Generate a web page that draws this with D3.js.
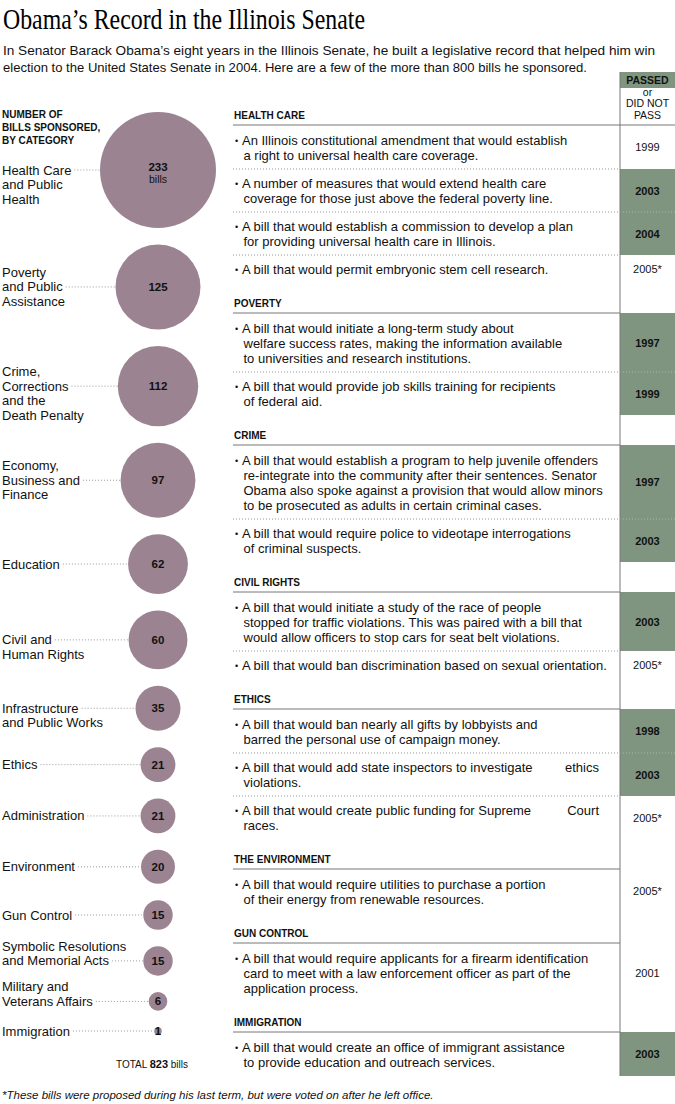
<!DOCTYPE html>
<html><head><meta charset="utf-8">
<script src="https://cdn.jsdelivr.net/npm/d3@7"></script>
<style>
body{margin:0;background:#fff}
svg{display:block}
text{font-family:"Liberation Sans",Arial,Helvetica,sans-serif;fill:#111}
</style>
</head><body><svg id="c" width="675" height="1104"></svg>
<script>
// ---------- DATA ----------
const titleText = "Obama\u2019s Record in the Illinois Senate";
const introLines = [
  "In Senator Barack Obama\u2019s eight years in the Illinois Senate, he built a legislative record that helped him win",
  "election to the United States Senate in 2004. Here are a few of the more than 800 bills he sponsored."
];
const leftHeader = ["NUMBER OF", "BILLS SPONSORED,", "BY CATEGORY"];
const categories = ["Health Care and Public Health","Poverty and Public Assistance","Crime, Corrections and the Death Penalty","Economy, Business and Finance","Education","Civil and Human Rights","Infrastructure and Public Works","Ethics","Administration","Environment","Gun Control","Symbolic Resolutions and Memorial Acts","Military and Veterans Affairs","Immigration"];
const categoryLabelLines = [
  ["Health Care","and Public","Health"],
  ["Poverty","and Public","Assistance"],
  ["Crime,","Corrections","and the","Death Penalty"],
  ["Economy,","Business and","Finance"],
  ["Education"],
  ["Civil and","Human Rights"],
  ["Infrastructure","and Public Works"],
  ["Ethics"],
  ["Administration"],
  ["Environment"],
  ["Gun Control"],
  ["Symbolic Resolutions","and Memorial Acts"],
  ["Military and","Veterans Affairs"],
  ["Immigration"]
];
const categoryAnchorLine = [0,1,1,1,0,0,0,0,0,0,0,1,1,0];
const billCounts = [233,125,112,97,62,60,35,21,21,20,15,15,6,1];
const totalBills = 823;

const sections = ["HEALTH CARE","POVERTY","CRIME","CIVIL RIGHTS","ETHICS","THE ENVIRONMENT","GUN CONTROL","IMMIGRATION"];
const billSection = [0,0,0,0,1,1,2,2,3,3,4,4,4,5,6,7];
const billLines = [
  ["An Illinois constitutional amendment that would establish","a right to universal health care coverage."],
  ["A number of measures that would extend health care","coverage for those just above the federal poverty line."],
  ["A bill that would establish a commission to develop a plan","for providing universal health care in Illinois."],
  ["A bill that would permit embryonic stem cell research."],
  ["A bill that would initiate a long-term study about","welfare success rates, making the information available","to universities and research institutions."],
  ["A bill that would provide job skills training for recipients","of federal aid."],
  ["A bill that would establish a program to help juvenile offenders","re-integrate into the community after their sentences. Senator","Obama also spoke against a provision that would allow minors","to be prosecuted as adults in certain criminal cases."],
  ["A bill that would require police to videotape interrogations","of criminal suspects."],
  ["A bill that would initiate a study of the race of people","stopped for traffic violations. This was paired with a bill that","would allow officers to stop cars for seat belt violations."],
  ["A bill that would ban discrimination based on sexual orientation."],
  ["A bill that would ban nearly all gifts by lobbyists and","barred the personal use of campaign money."],
  ["A bill that would add state inspectors to investigate\tethics","violations."],
  ["A bill that would create public funding for Supreme\tCourt","races."],
  ["A bill that would require utilities to purchase a portion","of their energy from renewable resources."],
  ["A bill that would require applicants for a firearm identification","card to meet with a law enforcement officer as part of the","application process."],
  ["A bill that would create an office of immigrant assistance","to provide education and outreach services."]
];
const billYears = ["1999","2003","2004","2005*","1997","1999","1997","2003","2003","2005*","1998","2003","2005*","2005*","2001","2003"];
const billPassed = [false,true,true,false,true,true,true,true,true,false,true,true,false,false,false,true];
const columnHeader = ["PASSED","or","DID NOT","PASS"];
const footnote = "*These bills were proposed during his last term, but were voted on after he left office.";

// ---------- STYLE ----------
const circleFill = "#9b8392";
const greenFill = "#7f9580";
const ruleColor = "#777";
const dotColor = "#999";

const svg = d3.select("#c");

// Title & intro
svg.append("text").attr("x",3).attr("y",29)
  .attr("textLength",362).attr("lengthAdjust","spacingAndGlyphs")
  .style("font-family","'Liberation Serif','DejaVu Serif',serif")
  .style("font-size","30px").style("fill","#000").text(titleText);
const introLen = [652, 584];
introLines.forEach((t,i)=>{
  svg.append("text").attr("x",3).attr("y",55+i*17)
    .attr("textLength",introLen[i]).attr("lengthAdjust","spacingAndGlyphs")
    .style("font-size","13px").text(t);
});

// ---------- LEFT: circles ----------
const r = d3.scaleSqrt().domain([0, d3.max(billCounts)]).range([0, 58]);
const cx = 158, firstY = 170, lastY = 1031;
const sumAdj = d3.sum(billCounts.slice(1), (v,i)=> r(v) + r(billCounts[i]));
const gap = (lastY - firstY - sumAdj) / (billCounts.length - 1);
const cys = [];
billCounts.forEach((v,i)=>{
  if(i===0) cys.push(firstY);
  else cys.push(cys[i-1] + r(billCounts[i-1]) + gap + r(v));
});

leftHeader.forEach((t,i)=>{
  svg.append("text").attr("x",2).attr("y",118+i*13)
    .style("font-size","10px").style("font-weight","bold").text(t);
});

const left = svg.append("g");
billCounts.forEach((v,i)=>{
  const cy = cys[i];
  const lines = categoryLabelLines[i];
  const a = categoryAnchorLine[i];
  const lineH = 14.5;
  let anchorWidth = 0;
  lines.forEach((t,k)=>{
    const tx = left.append("text").attr("x",2).attr("y", cy + 4.5 + (k - a)*lineH)
      .style("font-size","13px").text(t);
    if(k===a) anchorWidth = tx.node().getComputedTextLength();
  });
  left.append("line")
    .attr("x1", 2 + anchorWidth + 3).attr("x2", cx - r(v))
    .attr("y1", cy).attr("y2", cy)
    .attr("stroke", dotColor).attr("stroke-width",1).attr("stroke-dasharray","1,2");
  left.append("circle").attr("cx",cx).attr("cy",cy).attr("r",r(v)).attr("fill",circleFill);
  if(i===0){
    left.append("text").attr("x",cx).attr("y",cy+1).attr("text-anchor","middle")
      .style("font-size","11.5px").style("font-weight","bold").text(v);
    left.append("text").attr("x",cx).attr("y",cy+13).attr("text-anchor","middle")
      .style("font-size","10.5px").text("bills");
  } else {
    left.append("text").attr("x",cx).attr("y",cy+4).attr("text-anchor","middle")
      .style("font-size","11.5px").style("font-weight","bold").text(v);
  }
});

const tot = svg.append("text").attr("x",152).attr("y",1068).attr("text-anchor","middle").style("font-size","10px");
tot.append("tspan").text("TOTAL ");
tot.append("tspan").style("font-weight","bold").style("font-size","11px").text(totalBills);
tot.append("tspan").text(" bills");

svg.append("text").attr("x",2).attr("y",1099)
  .style("font-size","11.5px").style("font-style","italic").text(footnote);

// ---------- RIGHT: bills table ----------
const xL = 233, xV = 620, xR = 675, xYear = 647.5;
const heads = [], rows = [];
let y = 119, lastBaseline = 0;
sections.forEach((s,si)=>{
  if(si>0) y = lastBaseline + 33;
  const hb = y, hl = hb + 6;
  heads.push({name:s, baseline:hb, line:hl});
  let top = hl, fb = hl + 20;
  const idx = billSection.map((sec,i)=>sec===si?i:-1).filter(i=>i>=0);
  idx.forEach((i,n)=>{
    const baselines = billLines[i].map((l,k)=> fb + k*15);
    const last = baselines[baselines.length-1];
    const bottom = last + 9;
    rows.push({i, top, bottom, baselines, lastInSection: n===idx.length-1});
    top = bottom; fb = bottom + 19; lastBaseline = last;
  });
});

const right = svg.append("g");
// green cells
rows.forEach(rw=>{
  if(billPassed[rw.i]){
    right.append("rect").attr("x",xV).attr("y",rw.top).attr("width",xR-xV).attr("height",rw.bottom-rw.top)
      .attr("fill",greenFill);
  }
});
// column header
right.append("rect").attr("x",xV).attr("y",72).attr("width",xR-xV).attr("height",16).attr("fill",greenFill);
right.append("text").attr("x",xYear).attr("y",84).attr("text-anchor","middle")
  .style("font-size","10.5px").style("font-weight","bold").text(columnHeader[0]);
columnHeader.slice(1).forEach((t,k)=>{
  right.append("text").attr("x",xYear).attr("y",96+k*11.3).attr("text-anchor","middle")
    .style("font-size","10.5px").text(t);
});
right.append("line").attr("x1",xV).attr("x2",xR).attr("y1",heads[0].line).attr("y2",heads[0].line)
  .attr("stroke",ruleColor).attr("stroke-width",1);

// section headers
heads.forEach(h=>{
  right.append("text").attr("x",xL+1).attr("y",h.baseline)
    .style("font-size","10px").style("font-weight","bold").text(h.name);
  right.append("line").attr("x1",xL).attr("x2",xV).attr("y1",h.line).attr("y2",h.line)
    .attr("stroke",ruleColor).attr("stroke-width",1);
});

// rows
rows.forEach((rw,n)=>{
  const i = rw.i;
  right.append("text").attr("x",235).attr("y",rw.baselines[0]-1).style("font-size","9px").text("\u2022");
  billLines[i].forEach((t,k)=>{
    const parts = t.split("\t");
    right.append("text").attr("x", k===0?242:243.5).attr("y",rw.baselines[k])
      .style("font-size","13px").text(parts[0]);
    if(parts[1]) right.append("text").attr("x",599).attr("y",rw.baselines[k]).attr("text-anchor","end")
      .style("font-size","13px").text(parts[1]);
  });
  const passed = billPassed[i];
  right.append("text").attr("x",xYear).attr("y",(rw.top+rw.bottom)/2+4).attr("text-anchor","middle")
    .style("font-size","11px").style("font-weight",passed?"bold":"normal").text(billYears[i]);
  if(!rw.lastInSection){
    right.append("line").attr("x1",xL).attr("x2",xV).attr("y1",rw.bottom).attr("y2",rw.bottom)
      .attr("stroke",dotColor).attr("stroke-width",1).attr("stroke-dasharray","1,2");
    const next = rows[n+1];
    if(passed && next && billPassed[next.i]){
      right.append("line").attr("x1",xV).attr("x2",xR).attr("y1",rw.bottom).attr("y2",rw.bottom)
        .attr("stroke","#a9b6a9").attr("stroke-width",1).attr("stroke-dasharray","1,2");
    }
  }
});

// vertical rule
const lastRow = rows[rows.length-1];
right.append("line").attr("x1",xV).attr("x2",xV).attr("y1",72).attr("y2",lastRow.bottom)
  .attr("stroke",ruleColor).attr("stroke-width",1);
</script>
</body></html>
